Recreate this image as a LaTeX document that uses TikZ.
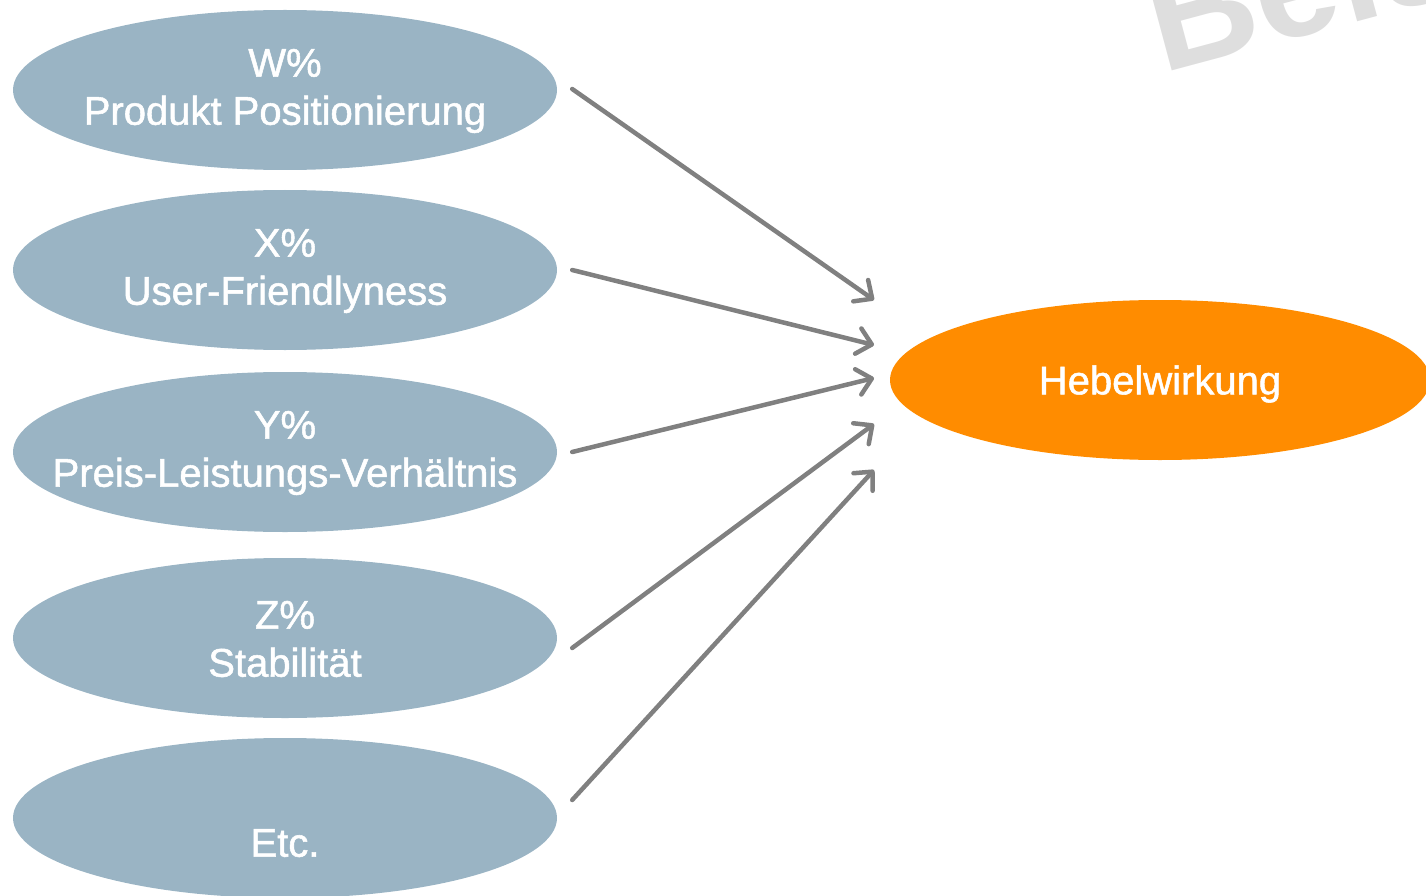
\documentclass[tikz,border=0pt]{standalone}
\usepackage{fontspec}
\setmainfont{Liberation Sans}[FakeBold=1.3]
\newfontfamily\wmfont{Liberation Sans}[BoldFont={Liberation Sans Bold}]
\usetikzlibrary{shapes.geometric,arrows.meta}
\definecolor{bluegray}{RGB}{154,180,196}
\definecolor{hebel}{RGB}{255,140,0}
\definecolor{arrowgray}{RGB}{128,128,128}
\definecolor{wm}{RGB}{222,222,222}
\tikzset{
  factor/.style={ellipse, fill=bluegray, minimum width=544pt, minimum height=160pt, inner sep=0pt},
  target/.style={ellipse, fill=hebel, minimum width=540pt, minimum height=160pt, inner sep=0pt},
  label text/.style={text=white, align=center, inner sep=0pt, font=\fontsize{40}{48}\selectfont},
  conn/.style={draw=arrowgray, line width=4.5pt, line cap=round,
    -{Straight Barb[length=14pt,width=26pt,round]}},
}
\begin{document}
\begin{tikzpicture}[x=1pt,y=-1pt]
\useasboundingbox (0,0) rectangle (1426,896);
\clip (0,0) rectangle (1426,896);
\node[wm, rotate=15, anchor=base west, font=\wmfont\fontsize{150}{150}\selectfont\bfseries, inner sep=0pt] (wmark) at (1162,74) {Beispiel};
\node[factor] (e1) at (285,90) {};
\node[factor] (e2) at (285,270) {};
\node[factor] (e3) at (285,452) {};
\node[factor] (e4) at (285,638) {};
\node[factor] (e5) at (285,818) {};
\node[target] (h) at (1160,380) {};
\node[label text] (e1t) at ([yshift=-1pt]e1.center) {W\%\\Produkt Positionierung};
\node[label text] (e2t) at ([yshift=-1pt]e2.center) {X\%\\User-Friendlyness};
\node[label text] (e3t) at ([yshift=-1pt]e3.center) {Y\%\\Preis-Leistungs-Verhältnis};
\node[label text] (e4t) at ([yshift=-1pt]e4.center) {Z\%\\Stabilität};
\node[label text] (e5t) at ([yshift=-1pt]e5.center) {\vphantom{W\%}\\Etc.};
\node[label text] (ht) at ([yshift=-4pt]h.center) {Hebelwirkung};
\coordinate (t1) at (874,300);
\coordinate (t2) at (874,345);
\coordinate (t3) at (874,378);
\coordinate (t4) at (874,424);
\coordinate (t5) at (874,470);
\draw[conn] ([xshift=15pt,yshift=1pt]e1.east) -- (t1);
\draw[conn] ([xshift=15pt]e2.east) -- (t2);
\draw[conn] ([xshift=15pt]e3.east) -- (t3);
\draw[conn] ([xshift=15pt,yshift=-10pt]e4.east) -- (t4);
\draw[conn] ([xshift=15pt,yshift=18pt]e5.east) -- (t5);
\end{tikzpicture}
\end{document}
